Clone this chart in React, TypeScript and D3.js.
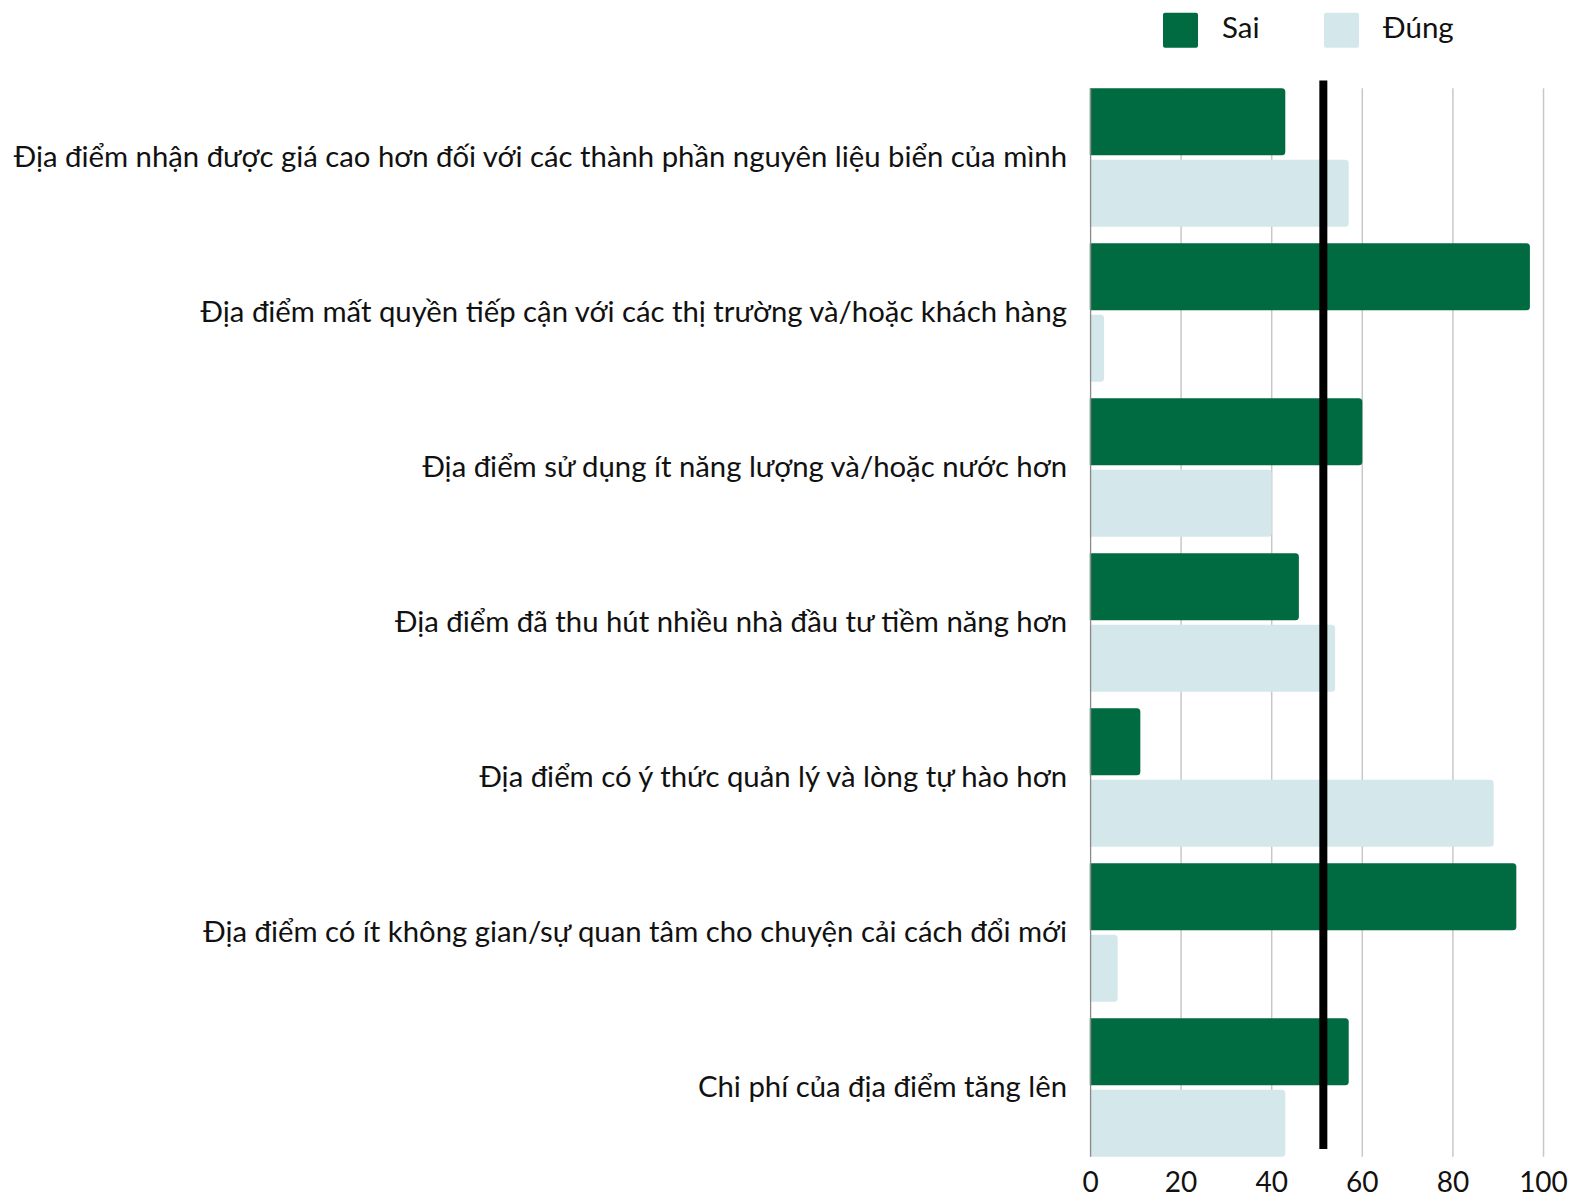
import React, { useEffect, useRef } from 'react';
import * as d3 from 'd3';

const categories = [
  'Địa điểm nhận được giá cao hơn đối với các thành phần nguyên liệu biển của mình',
  'Địa điểm mất quyền tiếp cận với các thị trường và/hoặc khách hàng',
  'Địa điểm sử dụng ít năng lượng và/hoặc nước hơn',
  'Địa điểm đã thu hút nhiều nhà đầu tư tiềm năng hơn',
  'Địa điểm có ý thức quản lý và lòng tự hào hơn',
  'Địa điểm có ít không gian/sự quan tâm cho chuyện cải cách đổi mới',
  'Chi phí của địa điểm tăng lên',
];

const seriesNames = ['Sai', 'Đúng'];
const saiValues = [43, 97, 60, 46, 11, 94, 57];
const dungValues = [57, 3, 40, 54, 89, 6, 43];
const xTicks = [0, 20, 40, 60, 80, 100];
const referenceValue = 51.4;

const colors: Record<string, string> = { Sai: '#006a40', 'Đúng': '#d4e8ec' };
const FONT = 'Lato, "Noto Sans", sans-serif';

const App: React.FC = () => {
  const svgRef = useRef<SVGSVGElement>(null);
  const width = 1572;
  const height = 1199;

  useEffect(() => {
    document.body.style.margin = '0';
    if (!svgRef.current) return;
    const svg = d3.select(svgRef.current);
    svg.selectAll('*').remove();

    const x = d3.scaleLinear().domain([0, 100]).range([1090.5, 1543.5]);
    const y = d3.scaleBand<string>().domain(categories).range([88.3, 1156.7]).paddingInner(0.107).paddingOuter(0);
    const ySub = d3.scaleBand<string>().domain(seriesNames).range([0, y.bandwidth()]).paddingInner(0.062);

    const [top, bottom] = y.range();

    // grid
    svg.append('g')
      .selectAll('line')
      .data(xTicks.filter(t => t > 0))
      .enter()
      .append('line')
      .attr('x1', d => x(d))
      .attr('x2', d => x(d))
      .attr('y1', top)
      .attr('y2', bottom)
      .attr('stroke', '#c8c8c8')
      .attr('stroke-width', 1.5);

    const rows = categories.map((c, i) => ({ c, vals: [saiValues[i], dungValues[i]] }));

    const g = svg.append('g');
    rows.forEach(r => {
      r.vals.forEach((v, j) => {
        const s = seriesNames[j];
        g.append('rect')
          .attr('x', x(0) - 4)
          .attr('y', (y(r.c) as number) + (ySub(s) as number))
          .attr('width', Math.max(0, x(v) - x(0) + 4))
          .attr('height', ySub.bandwidth())
          .attr('rx', 3.5)
          .attr('fill', colors[s]);
      });
    });

    // axis line
    svg.append('line')
      .attr('x1', x(0)).attr('x2', x(0))
      .attr('y1', top).attr('y2', bottom)
      .attr('stroke', '#8a8a8a')
      .attr('stroke-width', 1.5);

    // hide rounded left ends behind the axis
    svg.append('rect')
      .attr('x', x(0) - 6).attr('y', top - 2)
      .attr('width', 5.25).attr('height', bottom - top + 4)
      .attr('fill', '#fff');

    // reference line
    svg.append('line')
      .attr('x1', x(referenceValue)).attr('x2', x(referenceValue))
      .attr('y1', 80.5).attr('y2', 1149)
      .attr('stroke', '#000')
      .attr('stroke-width', 8);

    // category labels
    svg.append('g')
      .selectAll('text')
      .data(categories)
      .enter()
      .append('text')
      .attr('x', 1067)
      .attr('y', d => (y(d) as number) + y.bandwidth() / 2 - 1)
      .attr('dy', '0.35em')
      .attr('text-anchor', 'end')
      .attr('font-family', FONT)
      .attr('font-size', 29.3)
      .attr('fill', '#111')
      .text(d => d);

    // tick labels
    svg.append('g')
      .selectAll('text')
      .data(xTicks)
      .enter()
      .append('text')
      .attr('x', d => x(d))
      .attr('y', 1192)
      .attr('text-anchor', 'middle')
      .attr('font-family', FONT)
      .attr('font-size', 28)
      .attr('fill', '#111')
      .text(d => d);

    // legend
    const legendItems = [
      { name: 'Sai', x: 1163 },
      { name: 'Đúng', x: 1324 },
    ];
    const legend = svg.append('g');
    legendItems.forEach(it => {
      legend.append('rect')
        .attr('x', it.x).attr('y', 12.7)
        .attr('width', 35).attr('height', 35)
        .attr('rx', 2)
        .attr('fill', colors[it.name]);
      legend.append('text')
        .attr('x', it.x + 59)
        .attr('y', 28)
        .attr('dy', '0.35em')
        .attr('font-family', FONT)
        .attr('font-size', 29.5)
        .attr('fill', '#111')
        .text(it.name);
    });
  }, []);

  return <svg ref={svgRef} width={width} height={height} style={{ display: 'block' }} />;
};

export default App;
